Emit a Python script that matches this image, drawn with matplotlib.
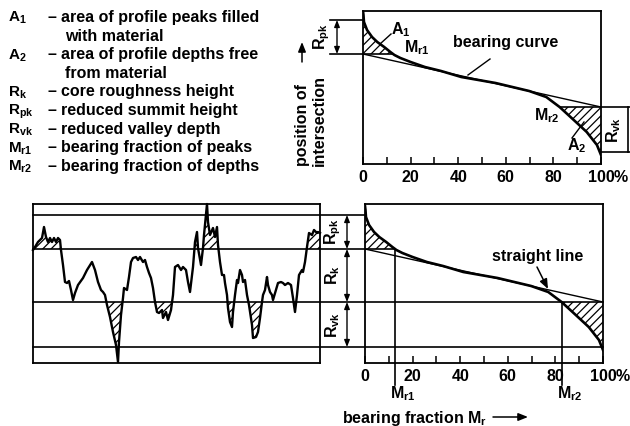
import numpy as np
import matplotlib
matplotlib.use("Agg")
import matplotlib.pyplot as plt
import matplotlib.transforms as mtransforms

plt.rcParams["font.family"] = ["Liberation Sans", "DejaVu Sans"]
plt.rcParams["font.weight"] = "bold"
plt.rcParams["font.size"] = 11.5
plt.rcParams["mathtext.fontset"] = "custom"
plt.rcParams["mathtext.rm"] = "Liberation Sans:bold"
plt.rcParams["mathtext.it"] = "Liberation Sans:bold"
plt.rcParams["mathtext.bf"] = "Liberation Sans:bold"
plt.rcParams["mathtext.default"] = "rm"
plt.rcParams["hatch.linewidth"] = 0.9

# roughness profile: position along the trace, height (um)
profile_x = [0, 2, 5, 9, 11, 13, 15, 17, 19, 21, 23, 25, 27, 28, 30, 32, 34, 36, 38, 40,
             42, 45, 50, 54, 59, 62, 65, 68, 70, 72, 74, 77, 80, 83, 85, 86, 88, 90, 91, 94,
             96, 98, 100, 103, 105, 107, 110, 112, 114, 116, 118, 120, 122, 124, 126, 129, 130, 133, 135, 138,
             140, 142, 145, 148, 150, 153, 155, 157, 160, 162, 164, 165, 168, 170, 171, 174, 175, 177, 180, 182,
             184, 185, 187, 189, 191, 192, 194, 195, 197, 199, 200, 202, 204, 205, 207, 209, 210, 212, 214, 216,
             219, 220, 223, 225, 227, 229, 230, 232, 234, 235, 237, 239, 240, 243, 245, 248, 250, 252, 255, 258,
             260, 262, 264, 266, 269, 270, 272, 274, 276, 279, 281, 284, 285, 287]
profile_h = [5.2, 5.5, 6.0, 6.4, 7.5, 6.5, 6.0, 6.4, 6.0, 6.4, 6.0, 6.4, 6.2, 5.2, 3.7, 2.0, 1.9, 2.1, 1.2, 0.2,
             0.9, 1.7, 2.4, 3.2, 4.0, 3.2, 2.0, 1.2, 1.0, 0.7, -0.3, -1.5, -3.0, -4.3, -6.0, -4.0, -1.3, 0.4, 1.4, 1.2,
             2.5, 4.0, 4.4, 4.5, 4.2, 4.5, 4.0, 4.2, 3.5, 2.9, 2.4, 1.4, 0.0, -1.0, -1.1, -0.8, -1.6, -1.0, -1.8, -0.8,
             0.7, 3.5, 3.7, 3.2, 3.5, 3.2, 2.0, 1.0, 3.5, 6.0, 7.0, 5.4, 3.7, 5.4, 6.7, 9.8, 8.0, 6.7, 7.4, 6.5,
             7.5, 5.7, 4.0, 2.7, 2.7, 1.9, 0.7, -0.6, -2.0, -2.5, -1.0, 0.7, 2.2, 1.9, 3.2, 2.7, 2.0, 2.2, 0.7, -0.3,
             -2.3, -3.6, -3.5, -3.0, -1.6, 0.0, 0.7, 1.2, 2.5, 1.7, 1.0, 0.7, 0.2, 1.2, 1.9, 2.0, 1.9, 1.7, 1.9, 1.7,
             0.4, -1.0, 0.7, 2.7, 3.2, 3.0, 4.0, 5.5, 6.9, 6.7, 7.2, 6.9, 7.0, 6.9]

# bearing (Abbott) curve: material ratio in %, height (um)
bearing_mr = [0, 0.2, 0.4, 1.7, 3.8, 6.0, 8.9, 11.5, 13.2, 15.7, 20.0, 26.0, 32.8, 41.3,
              55.7, 69.8, 77.0, 82.6, 88.1, 94.0, 98.3, 100]
bearing_h = [9.6, 9.2, 8.5, 7.7, 7.0, 6.5, 6.0, 5.5, 5.2, 4.9, 4.5, 4.0, 3.6, 3.0,
             2.4, 1.6, 1.0, 0.0, -1.2, -2.5, -3.8, -4.8]

# straight (secant) line through the core and the other levels
core_mr = [0, 100]
core_h = [5.3, 0.0]
rpk_top = 8.7
rvk_bottom = -4.5

tick_major = [0, 20, 40, 60, 80, 100]
tick_minor = [10, 30, 50, 70, 90]
tick_text = ["0", "20", "40", "60", "80", "100"]

legend_keys = ["A$_1$", "A$_2$", "R$_k$", "R$_{pk}$", "R$_{vk}$", "M$_{r1}$", "M$_{r2}$"]
legend_desc = [["area of profile peaks filled", "with material"],
               ["area of profile depths free", "from material"],
               ["core roughness height"],
               ["reduced summit height"],
               ["reduced valley depth"],
               ["bearing fraction of peaks"],
               ["bearing fraction of depths"]]

W, H = 630, 426
fig = plt.figure(figsize=(W / 100, H / 100), dpi=100)


def box(l, t, r, b):
    return fig.add_axes([l / W, 1 - b / H, (r - l) / W, (b - t) / H])


hb = np.array(bearing_h)
mr1 = np.interp(core_h[0], hb[::-1], np.array(bearing_mr)[::-1])
mr2 = np.interp(core_h[1], hb[::-1], np.array(bearing_mr)[::-1])
LW = 1.2


def bearing_panel(ax, ylim):
    ax.set_xlim(0, 100)
    ax.set_ylim(*ylim)
    ax.fill_between(bearing_mr, hb, core_h[0], where=hb >= core_h[0], interpolate=True,
                    facecolor="none", edgecolor="k", hatch="////", lw=0)
    ax.fill_between(bearing_mr, hb, core_h[1], where=hb <= core_h[1], interpolate=True,
                    facecolor="none", edgecolor="k", hatch="////", lw=0)
    ax.plot(core_mr, core_h, color="k", lw=1.0)
    ax.plot(bearing_mr, bearing_h, color="k", lw=1.9, solid_joinstyle="round")
    ax.plot([0, mr1], [core_h[0]] * 2, color="k", lw=LW)
    ax.set_yticks([])
    ax.set_xticks(tick_major)
    ax.set_xticklabels(tick_text)
    ax.set_xticks(tick_minor, minor=True)
    ax.tick_params(axis="x", which="both", direction="in", length=5, width=1.1, pad=4)
    for s in ax.spines.values():
        s.set_linewidth(1.3)
    ax.annotate("%", xy=(100, 0), xycoords=("data", "axes fraction"), xytext=(13, -6),
                textcoords="offset pixels", ha="left", va="top")


# top bearing curve
ax_top = box(363, 11, 601, 164)
bearing_panel(ax_top, (-5.7, 9.6))
ax_top.plot([mr2, 100], [core_h[1]] * 2, color="k", lw=LW)

# bottom bearing curve
ax_bot = box(365, 204, 603, 363)
bearing_panel(ax_bot, (-6.1, 9.8))

# profile
ax_p = box(33, 204, 320, 363)
ax_p.set_xlim(0, 287)
ax_p.set_ylim(-6.1, 9.8)
ph = np.array(profile_h)
ax_p.fill_between(profile_x, ph, core_h[0], where=ph >= core_h[0], interpolate=True,
                  facecolor="none", edgecolor="k", hatch="////", lw=0)
ax_p.fill_between(profile_x, ph, core_h[1], where=ph <= core_h[1], interpolate=True,
                  facecolor="none", edgecolor="k", hatch="////", lw=0)
ax_p.plot(profile_x, profile_h, color="k", lw=1.7, solid_joinstyle="round", clip_on=False)
ax_p.set_xticks([])
ax_p.set_yticks([])
for s in ax_p.spines.values():
    s.set_linewidth(1.3)

# overlay in pixel coordinates for dimensioning and labels
ov = fig.add_axes([0, 0, 1, 1])
ov.set_xlim(0, W)
ov.set_ylim(H, 0)
ov.axis("off")
ov.patch.set_alpha(0)
tb_top = mtransforms.blended_transform_factory(ov.transData, ax_top.transData)
tb_bot = mtransforms.blended_transform_factory(ov.transData, ax_bot.transData)
tx_bot = mtransforms.blended_transform_factory(ax_bot.transData, ov.transData)

arr = dict(arrowstyle="<|-|>,head_length=0.35,head_width=0.14", lw=1.0, color="k",
           shrinkA=0, shrinkB=0)

# level lines from profile into the lower bearing plot
for lvl, x1 in [(rpk_top, 365), (core_h[0], 365), (core_h[1], 603), (rvk_bottom, 603)]:
    ov.plot([33, x1], [lvl, lvl], color="k", lw=LW, transform=tb_bot)
for a, b in [(rpk_top, core_h[0]), (core_h[0], core_h[1]), (core_h[1], rvk_bottom)]:
    ov.annotate("", xy=(347, a), xytext=(347, b), xycoords=tb_bot, textcoords=tb_bot,
                arrowprops=arr)
ov.text(333, (rpk_top + core_h[0]) / 2, "R$_{pk}$", transform=tb_bot, rotation=90,
        ha="center", va="center")
ov.text(333, (core_h[0] + core_h[1]) / 2, "R$_k$", transform=tb_bot, rotation=90,
        ha="center", va="center")
ov.text(333, (core_h[1] + rvk_bottom) / 2, "R$_{vk}$", transform=tb_bot, rotation=90,
        ha="center", va="center")

# Mr1 / Mr2 verticals below the lower plot
for m, h0, lab in [(mr1, core_h[0], "M$_{r1}$"), (mr2, core_h[1], "M$_{r2}$")]:
    ax_bot.plot([m, m], [h0, -6.1], color="k", lw=LW, clip_on=False)
    ov.plot([m, m], [363, 385], color="k", lw=LW, transform=tx_bot)
    ov.annotate(lab, xy=(m, 394), xycoords=tx_bot, xytext=(-5, 0), textcoords="offset pixels",
                ha="left", va="center")

# dimensioning on the upper plot
for lvl in [rpk_top, core_h[0]]:
    ov.plot([330, 363], [lvl, lvl], color="k", lw=LW, transform=tb_top)
ov.annotate("", xy=(337, rpk_top), xytext=(337, core_h[0]), xycoords=tb_top,
            textcoords=tb_top, arrowprops=arr)
ov.text(322, (rpk_top + core_h[0]) / 2, "R$_{pk}$", transform=tb_top, rotation=90,
        ha="center", va="center")
for lvl in [core_h[1], rvk_bottom]:
    ov.plot([601, 630], [lvl, lvl], color="k", lw=LW, transform=tb_top)
ov.plot([628, 628], [core_h[1], rvk_bottom], color="k", lw=LW, transform=tb_top)
ov.text(614, (core_h[1] + rvk_bottom) / 2, "R$_{vk}$", transform=tb_top, rotation=90,
        ha="center", va="center")

# labels inside the upper plot
ov.text(453, 43, "bearing curve", va="center", ha="left")
ov.plot([490, 468], [59, 75], color="k", lw=1.0)
ov.text(391, 30, "A$_1$", va="center", ha="left")
ov.plot([380, 391], [44, 34], color="k", lw=1.0)
ov.text(404, 48, "M$_{r1}$", va="center", ha="left")
ov.text(534, 116, "M$_{r2}$", va="center", ha="left")
ov.text(567, 146, "A$_2$", va="center", ha="left")
ov.plot([572, 584], [138, 122], color="k", lw=1.0)

# straight line label in lower plot
ov.text(492, 256, "straight line", va="center", ha="left")
ov.annotate("", xy=(548, 289), xytext=(537, 267),
            arrowprops=dict(arrowstyle="-|>,head_length=0.5,head_width=0.2", lw=1.1,
                            color="k", shrinkA=0, shrinkB=0))

# axis descriptions
ov.text(302, 166, "position of", rotation=90, ha="center", va="bottom")
ov.text(319, 166, "intersection", rotation=90, ha="center", va="bottom")
ov.annotate("", xy=(302, 42), xytext=(302, 62),
            arrowprops=dict(arrowstyle="-|>,head_length=0.5,head_width=0.2", lw=1.1,
                            color="k", shrinkA=0, shrinkB=0))
ov.text(342, 418, "bearing fraction M$_r$", va="center", ha="left")
ov.annotate("", xy=(528, 417), xytext=(493, 417),
            arrowprops=dict(arrowstyle="-|>,head_length=0.5,head_width=0.2", lw=1.1,
                            color="k", shrinkA=0, shrinkB=0))

# legend text block
row = 0
for key, lines in zip(legend_keys, legend_desc):
    y = 22 + row * 18.6
    ov.text(8, y, key, ha="left", va="baseline", fontsize=11)
    ov.text(47, y, "\u2013", ha="left", va="baseline")
    ov.text(61, y, lines[0], ha="left", va="baseline")
    row += 1
    for extra in lines[1:]:
        y = 22 + row * 18.6
        ov.text(65, y, extra, ha="left", va="baseline")
        row += 1

fig.savefig("out.png", dpi=100)
